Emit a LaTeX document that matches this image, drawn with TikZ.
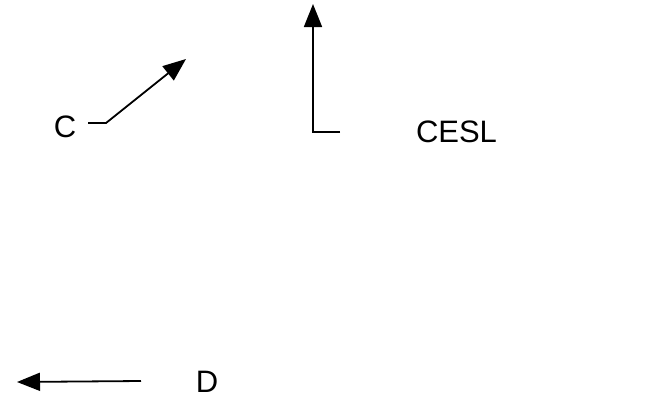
\documentclass[tikz,border=0pt]{standalone}
\usepackage{fontspec}
\setmainfont{Liberation Sans}
\usetikzlibrary{arrows.meta}
\begin{document}
\begin{tikzpicture}[x=1pt,y=-1pt,
  lbl/.style={font=\fontsize{31}{33}\selectfont, inner sep=0pt},
  conn/.style={line width=1.8pt, -{Triangle[length=23pt,width=18pt]}}]
\useasboundingbox (0,0) rectangle (670,413);
\node[lbl] (c) at (65,127) {C};
\node[lbl] (cesl) at (456.5,132) {CESL};
\node[lbl] (d) at (207,381.5) {D};
\coordinate (c0) at (88,123);
\coordinate (c1) at (106,123);
\coordinate (c2) at (186,59);
\coordinate (v0) at (340,132);
\coordinate (v1) at (313,132);
\coordinate (v2) at (313,4);
\coordinate (h0) at (141,381);
\coordinate (h1) at (17,382);
\draw[conn] (c0) -- (c1) -- (c2);
\draw[conn] (v0) -- (v1) -- (v2);
\draw[conn] (h0) -- (h1);
\end{tikzpicture}
\end{document}
